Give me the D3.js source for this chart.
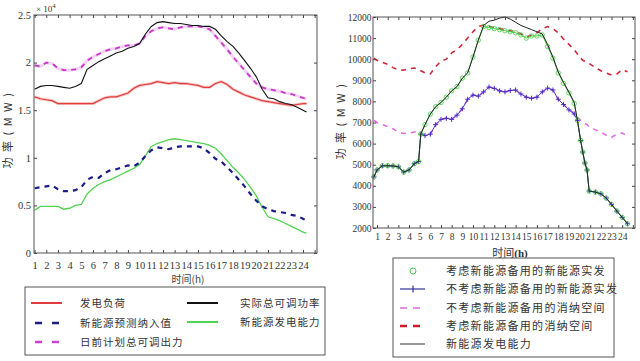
<!DOCTYPE html>
<html><head><meta charset="utf-8">
<script src="https://cdn.jsdelivr.net/npm/d3@7"></script>
<style>body{margin:0;background:#fff}</style>
</head><body>
<svg id="c" width="640" height="361"></svg>
<script>
// ---------- Left chart data (×10^4 MW) ----------
const hoursL = [1,1.5,2,2.5,3,3.5,4,4.5,5,5.5,6,6.5,7,7.5,8,8.5,9,9.5,10,10.5,11,11.5,12,12.5,13,13.5,14,14.5,15,15.5,16,16.5,17,17.5,18,18.5,19,19.5,20,20.5,21,21.5,22,22.5,23,23.5,24,24.3];
const loadL   = [1.64,1.62,1.61,1.60,1.57,1.57,1.57,1.57,1.57,1.57,1.57,1.60,1.63,1.64,1.64,1.66,1.68,1.73,1.76,1.77,1.78,1.80,1.79,1.78,1.79,1.78,1.78,1.77,1.76,1.74,1.74,1.78,1.80,1.77,1.72,1.69,1.66,1.64,1.62,1.60,1.59,1.58,1.57,1.56,1.55,1.56,1.57,1.57];
const actualL = [1.72,1.75,1.76,1.76,1.75,1.74,1.73,1.75,1.78,1.93,1.97,2.01,2.04,2.07,2.10,2.12,2.15,2.17,2.20,2.30,2.38,2.42,2.43,2.42,2.41,2.41,2.40,2.39,2.39,2.38,2.38,2.35,2.28,2.22,2.17,2.10,2.02,1.94,1.85,1.72,1.63,1.62,1.59,1.57,1.56,1.53,1.50,1.48];
const forecastL = [0.68,0.69,0.70,0.71,0.67,0.65,0.65,0.66,0.69,0.77,0.80,0.79,0.84,0.87,0.88,0.90,0.92,0.91,0.95,1.02,1.08,1.11,1.10,1.09,1.11,1.12,1.12,1.12,1.12,1.10,1.05,0.99,0.96,0.90,0.84,0.77,0.70,0.62,0.55,0.49,0.46,0.44,0.43,0.42,0.40,0.39,0.36,0.34];
const capacityL = [0.45,0.49,0.49,0.49,0.49,0.46,0.47,0.50,0.51,0.62,0.68,0.72,0.75,0.77,0.80,0.83,0.86,0.89,0.93,1.02,1.12,1.15,1.17,1.19,1.20,1.19,1.18,1.17,1.16,1.15,1.13,1.10,1.04,0.97,0.90,0.84,0.77,0.69,0.60,0.48,0.38,0.36,0.34,0.31,0.28,0.25,0.22,0.21];
const planL   = [1.97,1.96,2.00,1.99,1.94,1.92,1.92,1.93,1.95,2.02,2.06,2.09,2.12,2.14,2.15,2.17,2.18,2.18,2.20,2.28,2.33,2.36,2.37,2.36,2.35,2.37,2.38,2.38,2.38,2.37,2.35,2.28,2.21,2.14,2.06,1.99,1.92,1.85,1.78,1.74,1.72,1.71,1.70,1.68,1.67,1.65,1.63,1.62];
const yTicksL = [0,0.5,1,1.5,2,2.5];
const yTickLabelsL = ["0","0.5","1","1.5","2","2.5"];
const xTicks = [1,2,3,4,5,6,7,8,9,10,11,12,13,14,15,16,17,18,19,20,21,22,23,24];
const xTickMarks = [1,2,3,4,5,6,7,8,9,10,11,12,13,14,15,16,17,18,19,20,21,22,23,24,25];
const legendL = ["发电负荷","新能源预测纳入值","日前计划总可调出力","实际总可调功率","新能源发电能力"];

// ---------- Right chart data (MW) ----------
const hoursR = [0.7,1,1.5,2,2.5,3,3.5,4,4.5,4.9,5.1,5.5,6,6.5,7,7.5,8,8.5,9,9.5,10,10.5,11,11.5,12,12.5,13,13.5,14,14.5,15,15.5,16,16.5,17,17.5,18,18.5,19,19.5,19.8,20.1,20.3,20.5,20.7,20.9,21.5,22,22.5,23,23.5,24,24.5];
const capR = [4420,4750,4950,4950,4940,4900,4650,4750,5050,5150,6450,6900,7400,7750,7950,8200,8500,8700,9100,9350,10100,10900,11600,11800,11850,11950,12000,11900,11750,11600,11500,11400,11300,11200,10700,10100,9400,8900,8450,7950,7100,6150,5600,5080,4750,3750,3700,3620,3420,3120,2800,2500,2200];
const withResR = [4420,4750,4950,4950,4940,4900,4650,4750,5050,5150,6450,6900,7400,7750,7950,8200,8500,8700,9100,9350,10100,10900,11550,11500,11450,11400,11350,11300,11250,11150,11000,11100,11100,11150,10600,10050,9350,8850,8400,7900,7100,6150,5600,5080,4750,3750,3700,3620,3420,3120,2800,2500,2200];
const noResR = [4420,4750,4950,4950,4940,4900,4650,4750,5050,5150,6450,6380,6450,6900,7150,7200,7150,7350,7650,8100,8300,8250,8450,8680,8620,8500,8450,8520,8540,8350,8200,8150,8200,8450,8630,8540,8100,7850,7600,7400,7100,6150,5600,5080,4750,3750,3700,3620,3420,3120,2800,2500,2200];
const spaceNoResR = [7100,7000,6900,6800,6700,6550,6480,6500,6550,6550,6500,6400,6450,6900,7150,7200,7150,7350,7650,8100,8300,8250,8450,8680,8620,8500,8450,8520,8540,8350,8200,8150,8200,8450,8630,8540,8100,7850,7600,7450,7250,7100,7000,6950,6900,6800,6650,6550,6400,6300,6450,6500,6350];
const spaceResR = [10050,9950,9850,9750,9600,9500,9480,9550,9580,9520,9450,9350,9300,9650,9900,10000,10300,10450,10700,11000,11300,11550,11620,11550,11500,11450,11400,11350,11300,11200,11050,11150,11250,11450,11550,11450,11250,10950,10700,10450,10250,10050,9950,9900,9850,9800,9600,9450,9350,9250,9300,9500,9400];
const yTicksR = [2000,3000,4000,5000,6000,7000,8000,9000,10000,11000,12000];
const legendR = ["考虑新能源备用的新能源实发","不考虑新能源备用的新能源实发","不考虑新能源备用的消纳空间","考虑新能源备用的消纳空间","新能源发电能力"];

const svg = d3.select('#c');
const serif = '"Liberation Serif","DejaVu Serif",serif';
const cjk = '"Noto Sans CJK SC","Noto Sans",sans-serif';

function frame(x, y, yVals, yFmt, xPad, yPad, fs) {
  const [x0, x1] = x.range(); const [y0, y1] = y.range();
  const g = svg.append('g');
  const style = sel => {
    sel.select('.domain').remove();
    sel.selectAll('line').attr('stroke', '#444');
    sel.selectAll('text').attr('font-family', serif).attr('font-size', fs).attr('fill', '#333');
  };
  g.append('g').attr('transform', `translate(0,${y0})`)
    .call(d3.axisBottom(x).tickValues(xTickMarks).tickSize(-3).tickSizeOuter(0).tickPadding(xPad)
      .tickFormat(d => xTicks.includes(d) ? String(d) : '')).call(style);
  g.append('g').attr('transform', `translate(0,${y1})`)
    .call(d3.axisTop(x).tickValues(xTickMarks).tickSize(-3).tickSizeOuter(0).tickFormat('')).call(style);
  g.append('g').attr('transform', `translate(${x0},0)`)
    .call(d3.axisLeft(y).tickValues(yVals).tickSize(-3).tickSizeOuter(0).tickPadding(yPad).tickFormat(yFmt)).call(style);
  g.append('g').attr('transform', `translate(${x1},0)`)
    .call(d3.axisRight(y).tickValues(yVals).tickSize(-3).tickSizeOuter(0).tickFormat('')).call(style);
  g.append('rect').attr('x', x0).attr('y', y1).attr('width', x1 - x0).attr('height', y0 - y1)
    .attr('fill', 'none').attr('stroke', '#555').attr('stroke-width', 1);
  return g;
}

// ================= LEFT CHART =================
const xL = d3.scaleLinear().domain([0.95, 25.2]).range([34, 317]);
const yL = d3.scaleLinear().domain([0, 2.5]).range([253, 15]);
const lineL = vals => d3.line().x((d, i) => xL(hoursL[i])).y(d => yL(d))(vals);

const gL = svg.append('g');
gL.append('path').attr('d', lineL(loadL)).attr('fill', 'none').attr('stroke', '#f3a0a0').attr('stroke-width', 3).attr('opacity', 0.6);
gL.append('path').attr('d', lineL(loadL)).attr('fill', 'none').attr('stroke', '#e03c3c').attr('stroke-width', 1.2);
gL.append('path').attr('d', lineL(planL)).attr('fill', 'none').attr('stroke', '#e8a8e8').attr('stroke-width', 3).attr('opacity', 0.5);
gL.append('path').attr('d', lineL(planL)).attr('fill', 'none').attr('stroke', '#c838c8').attr('stroke-width', 1.8).attr('stroke-dasharray', '5,5');
gL.append('path').attr('d', lineL(capacityL)).attr('fill', 'none').attr('stroke', '#52d452').attr('stroke-width', 1.3);
gL.append('path').attr('d', lineL(forecastL)).attr('fill', 'none').attr('stroke', '#1c1c88').attr('stroke-width', 2.2).attr('stroke-dasharray', '5,5');
gL.append('path').attr('d', lineL(actualL)).attr('fill', 'none').attr('stroke', '#111').attr('stroke-width', 1.1);

frame(xL, yL, yTicksL, (d, i) => yTickLabelsL[i], 9, 3, '10.5px');

svg.append('text').attr('x', 36).attr('y', 12).attr('font-family', serif).attr('font-size', '9px').attr('fill', '#333')
  .text('× 10').append('tspan').attr('dy', -4).attr('font-size', '7px').text('4');
svg.append('text').attr('transform', 'translate(12,130) rotate(-90)').attr('text-anchor', 'middle')
  .attr('font-family', cjk).attr('font-size', '11px').attr('letter-spacing', '1.5px').attr('fill', '#333').text('功 率 ( M W )');
svg.append('text').attr('x', 188).attr('y', 283).attr('text-anchor', 'middle')
  .attr('font-family', cjk).attr('font-size', '10px').attr('fill', '#444').text('时间(h)');

// left legend
const lg = svg.append('g');
lg.append('rect').attr('x', 25).attr('y', 287).attr('width', 300).attr('height', 68).attr('fill', '#fff').attr('stroke', '#555');
const lItems = [
  {c:'#e03c3c', w:2, dash:null, x:31, y:303},
  {c:'#1c1c88', w:2.5, dash:'7,10', x:35, y:323},
  {c:'#d040d0', w:2.5, dash:'7,10', x:35, y:342},
  {c:'#111', w:2, dash:null, x:187, y:303},
  {c:'#52d452', w:2, dash:null, x:187, y:322}
];
lItems.forEach((it, i) => {
  lg.append('line').attr('x1', it.x).attr('x2', it.x + (it.dash ? 24 : 31)).attr('y1', it.y).attr('y2', it.y)
    .attr('stroke', it.c).attr('stroke-width', it.w).attr('stroke-dasharray', it.dash);
  lg.append('text').attr('x', i < 3 ? 80 : 240).attr('y', it.y + 4).attr('font-family', cjk).attr('font-size', '10.5px')
    .attr('letter-spacing', '1px').attr('fill', '#333').text(legendL[i]);
});

// ================= RIGHT CHART =================
const xR = d3.scaleLinear().domain([0.62, 25.2]).range([373, 635]);
const yR = d3.scaleLinear().domain([2000, 12000]).range([228, 17]);
const lineR = vals => d3.line().x((d, i) => xR(hoursR[i])).y(d => yR(d))(vals);
const gR = svg.append('g');
gR.append('path').attr('d', lineR(spaceNoResR)).attr('fill', 'none').attr('stroke', '#e070e0').attr('stroke-width', 1.6).attr('stroke-dasharray', '5,5');
gR.append('path').attr('d', lineR(spaceResR)).attr('fill', 'none').attr('stroke', '#cc2a3c').attr('stroke-width', 1.6).attr('stroke-dasharray', '5,5');
// no reserve actual: line + plus markers
gR.append('path').attr('d', lineR(noResR)).attr('fill', 'none').attr('stroke', '#5a34d0').attr('stroke-width', 1);
gR.append('g').selectAll('path').data(noResR).join('path')
  .attr('d', (d, i) => { const px = xR(hoursR[i]), py = yR(d); return `M${px-2.5},${py}H${px+2.5}M${px},${py-2.5}V${py+2.5}`; })
  .attr('stroke', '#4a2cc0').attr('stroke-width', 1);
// with reserve actual: line + circles
gR.append('path').attr('d', lineR(withResR)).attr('fill', 'none').attr('stroke', '#44cc44').attr('stroke-width', 1);
gR.append('g').selectAll('circle').data(withResR).join('circle')
  .attr('cx', (d, i) => xR(hoursR[i])).attr('cy', d => yR(d)).attr('r', 2.2)
  .attr('fill', 'none').attr('stroke', '#44cc44').attr('stroke-width', 0.9).attr('opacity', 0.9);
gR.append('path').attr('d', lineR(capR)).attr('fill', 'none').attr('stroke', '#222').attr('stroke-width', 1);

frame(xR, yR, yTicksR, d => String(d), 5.5, 1.5, '9.5px');

svg.append('text').attr('transform', 'translate(345,121) rotate(-90)').attr('text-anchor', 'middle')
  .attr('font-family', cjk).attr('font-size', '11px').attr('letter-spacing', '1.5px').attr('fill', '#333').text('功 率 ( M W )');
const tr = svg.append('text').attr('x', 510).attr('y', 257).attr('text-anchor', 'middle')
  .attr('font-family', cjk).attr('font-size', '11px').attr('fill', '#333');
tr.append('tspan').text('时间');
tr.append('tspan').attr('font-family', serif).attr('font-weight', 'bold').text('(h)');

// right legend
const rg = svg.append('g');
rg.append('rect').attr('x', 393).attr('y', 258).attr('width', 221).attr('height', 99).attr('fill', '#fff').attr('stroke', '#555');
const rRows = [271, 289, 308, 326, 344];
rg.append('circle').attr('cx', 413).attr('cy', rRows[0]).attr('r', 3).attr('fill', 'none').attr('stroke', '#44cc44');
rg.append('line').attr('x1', 400).attr('x2', 425).attr('y1', rRows[1]).attr('y2', rRows[1]).attr('stroke', '#33339a').attr('stroke-width', 1.2);
rg.append('path').attr('d', `M413,${rRows[1]-3.5}V${rRows[1]+3.5}`).attr('stroke', '#33339a').attr('stroke-width', 1.2);
rg.append('line').attr('x1', 400).attr('x2', 421).attr('y1', rRows[2]).attr('y2', rRows[2]).attr('stroke', '#e090e0').attr('stroke-width', 2).attr('stroke-dasharray', '7,6');
rg.append('line').attr('x1', 400).attr('x2', 421).attr('y1', rRows[3]).attr('y2', rRows[3]).attr('stroke', '#cc1c2c').attr('stroke-width', 2.6).attr('stroke-dasharray', '7,6');
rg.append('line').attr('x1', 400).attr('x2', 425).attr('y1', rRows[4]).attr('y2', rRows[4]).attr('stroke', '#555').attr('stroke-width', 1.2);
legendR.forEach((t, i) => {
  rg.append('text').attr('x', 446).attr('y', rRows[i] + 4).attr('font-family', cjk).attr('font-size', '11px')
    .attr('letter-spacing', '1.3px').attr('fill', '#333').text(t);
});
</script>
</body></html>
